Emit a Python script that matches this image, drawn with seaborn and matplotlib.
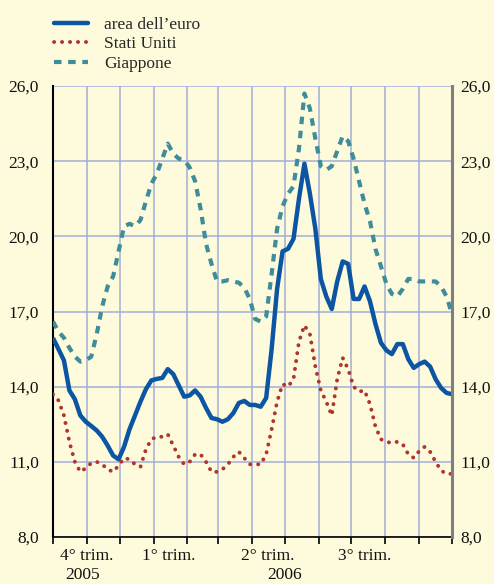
import numpy as np
import pandas as pd
import matplotlib
matplotlib.use("Agg")
import matplotlib.pyplot as plt
import matplotlib.dates as mdates
from matplotlib.ticker import FuncFormatter, FixedLocator
import seaborn as sns

# ---- data (5-day observations, Oct 2005 - Sep 2006) ----
start_date = "2005-10-01"
step_days = 5
euro = [15.94, 15.5, 15.05, 13.85, 13.5, 12.85, 12.6, 12.43, 12.25, 12.0,
        11.65, 11.25, 11.1, 11.6, 12.3, 12.85, 13.4, 13.9, 14.25, 14.31,
        14.35, 14.7, 14.5, 14.05, 13.6, 13.65, 13.85, 13.6, 13.15, 12.75,
        12.7, 12.6, 12.7, 12.95, 13.35, 13.43, 13.27, 13.27, 13.2, 13.55,
        15.5, 17.9, 19.4, 19.5, 19.9, 21.5, 22.9, 21.7, 20.3, 18.3,
        17.6, 17.1, 18.2, 19.0, 18.9, 17.5, 17.5, 18.0, 17.4, 16.5,
        15.75, 15.45, 15.3, 15.7, 15.7, 15.1, 14.75, 14.9, 15.0, 14.8,
        14.3, 13.95, 13.75, 13.7]
usa = [13.7, 13.45, 12.85, 11.8, 11.0, 10.6, 10.75, 10.95, 11.0, 10.9,
       10.7, 10.6, 10.85, 11.15, 11.1, 10.9, 10.8, 11.5, 11.9, 12.0,
       12.0, 12.1, 11.65, 11.2, 10.9, 11.0, 11.3, 11.3, 11.0, 10.6,
       10.6, 10.7, 10.9, 11.2, 11.4, 11.15, 10.9, 10.9, 10.9, 11.3,
       12.3, 13.4, 14.1, 14.0, 14.3, 15.8, 16.45, 16.1, 14.8, 13.85,
       13.4, 12.85, 14.3, 15.15, 14.7, 14.0, 13.8, 13.85, 13.3, 12.4,
       11.9, 11.8, 11.75, 11.8, 11.7, 11.3, 11.16, 11.43, 11.6, 11.4,
       11.0, 10.65, 10.52, 10.52]
japan = [16.6, 16.2, 15.95, 15.55, 15.2, 15.0, 15.05, 15.2, 16.1, 17.2,
         18.0, 18.4, 19.4, 20.4, 20.5, 20.4, 20.65, 21.4, 22.1, 22.5,
         23.1, 23.7, 23.3, 23.1, 23.05, 22.75, 22.2, 21.1, 19.7, 18.9,
         18.2, 18.2, 18.25, 18.2, 18.15, 17.95, 17.5, 16.7, 16.6, 16.8,
         18.5, 20.3, 21.2, 21.7, 22.0, 23.5, 25.7, 25.1, 23.9, 22.8,
         22.65, 22.8, 23.4, 24.0, 23.8, 23.1, 22.2, 21.3, 20.6, 19.5,
         18.8, 18.1, 17.7, 17.6, 17.9, 18.3, 18.3, 18.2, 18.2, 18.2,
         18.2, 18.0, 17.6, 16.9]
series_names = ["area dell\u2019euro", "Stati Uniti", "Giappone"]
y_ticks = [8.0, 11.0, 14.0, 17.0, 20.0, 23.0, 26.0]
quarter_labels = ["4\u00b0 trim.", "1\u00b0 trim.", "2\u00b0 trim.", "3\u00b0 trim."]
quarter_label_dates = ["2005-11-01", "2006-01-15", "2006-04-15", "2006-07-13"]
year_labels = ["2005", "2006"]
year_label_dates = ["2005-10-28", "2006-05-01"]

dates = pd.date_range(start_date, periods=len(euro), freq=f"{step_days}D")
df = pd.DataFrame({
    "date": np.concatenate([dates] * 3),
    "value": euro + usa + japan,
    "serie": np.repeat(series_names, len(euro)),
})

bg = "#FEFBDC"
sns.set_theme(style="white")
plt.rcParams["font.family"] = ["Liberation Serif", "DejaVu Serif"]
plt.rcParams["font.size"] = 12.5

fig = plt.figure(figsize=(4.94, 5.84), dpi=100, facecolor=bg)
ax = fig.add_axes([53 / 494, 47 / 584, 399 / 494, 451 / 584])
ax.set_facecolor(bg)

colors = {series_names[0]: "#0B55A3", series_names[1]: "#B0352C", series_names[2]: "#3F8C9B"}
styles = {series_names[0]: "-", series_names[1]: (0, (0.05, 2.0)), series_names[2]: (0, (1.8, 1.6))}
widths = {series_names[0]: 3.2, series_names[1]: 2.8, series_names[2]: 3.0}
caps = {series_names[0]: "round", series_names[1]: "round", series_names[2]: "butt"}

handles = []
for name in series_names:
    sub = df[df["serie"] == name]
    sns.lineplot(data=sub, x="date", y="value", ax=ax, color=colors[name],
                 linewidth=widths[name], linestyle=styles[name], zorder=3,
                 legend=False, estimator=None)
    ln = ax.lines[-1]
    ln.set_dash_capstyle(caps[name])
    ln.set_solid_capstyle("butt")
    h, = ax.plot([], [], color=colors[name], linewidth=widths[name],
                 linestyle=styles[name], dash_capstyle=caps[name], label=name)
    handles.append(h)

x0 = pd.Timestamp("2005-10-01")
x1 = pd.Timestamp("2006-10-01")
ax.set_xlim(x0, x1)
ax.set_ylim(8, 26)

month_bounds = pd.date_range(x0, x1, freq="MS")
ax.xaxis.set_major_locator(FixedLocator(mdates.date2num(month_bounds)))
ax.set_xticklabels([])
fmt = FuncFormatter(lambda v, p: f"{v:.1f}".replace(".", ","))
ax.yaxis.set_major_locator(FixedLocator(y_ticks))
ax.yaxis.set_major_formatter(fmt)

ax.grid(True, color="#A3AED8", linewidth=1.1, zorder=0)
ax.set_axisbelow(True)
ax.tick_params(axis="x", direction="out", length=5, width=1.2, color="black", bottom=True)
ax.tick_params(axis="y", length=0, left=False, right=False, labelleft=True,
               labelright=False, pad=10, labelsize=12.5, labelcolor="#111111")

# right-hand labels
axr = ax.twinx()
axr.set_ylim(8, 26)
axr.yaxis.set_major_locator(FixedLocator(y_ticks))
axr.yaxis.set_major_formatter(fmt)
axr.tick_params(axis="y", length=0, pad=6, labelsize=12.5, labelcolor="#111111")
axr.grid(False)
for sp in ["top", "left", "bottom"]:
    axr.spines[sp].set_visible(False)
axr.spines["right"].set_color("#7F7F7F")
axr.spines["right"].set_linewidth(2.2)

ax.spines["top"].set_visible(False)
ax.spines["right"].set_visible(False)
ax.spines["left"].set_color("black")
ax.spines["left"].set_linewidth(1.5)
ax.spines["bottom"].set_color("black")
ax.spines["bottom"].set_linewidth(1.2)
ax.set_xlabel("")
ax.set_ylabel("")

trans = matplotlib.transforms.blended_transform_factory(ax.transData, ax.transAxes)
for lab, d in zip(quarter_labels, quarter_label_dates):
    ax.text(mdates.date2num(pd.Timestamp(d)), -0.042, lab, transform=trans,
            ha="center", va="center", fontsize=12.5, color="#111111")
for lab, d in zip(year_labels, year_label_dates):
    ax.text(mdates.date2num(pd.Timestamp(d)), -0.084, lab, transform=trans,
            ha="center", va="center", fontsize=12.5, color="#111111")

fig.legend(handles=handles, labels=series_names, loc="upper left",
           bbox_to_anchor=(45 / 494, 1 - 8 / 584), frameon=False,
           handlelength=2.0, handletextpad=0.9, labelspacing=0.2,
           borderpad=0, fontsize=12.5)

fig.savefig("out.png", dpi=100, facecolor=bg)
